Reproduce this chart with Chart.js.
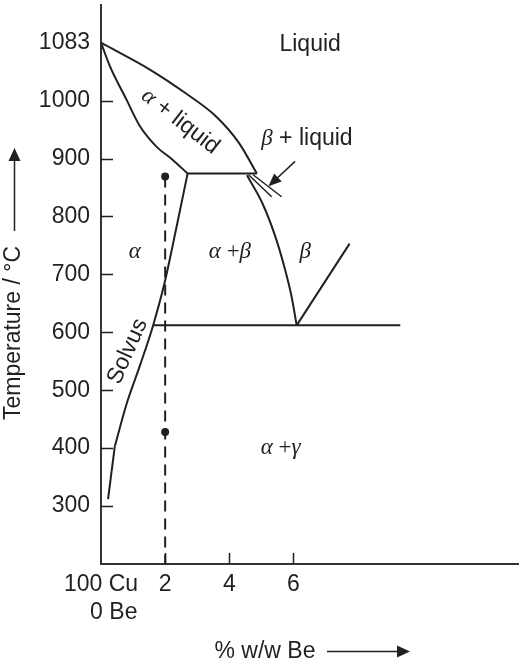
<!DOCTYPE html>
<html>
<head>
<meta charset="utf-8">
<script src="https://cdn.jsdelivr.net/npm/chart.js@4.4.1/dist/chart.umd.min.js"></script>
<style>
  html, body { margin: 0; padding: 0; background: #fff; }
  #wrap { width: 522px; height: 666px; position: relative; }
</style>
</head>
<body>
<div id="wrap"><canvas id="chart"></canvas></div>
<script>
// ===== DATA =====
// x = % w/w Be, y = temperature (°C). The melting point sits at the 1100 slot and is labelled 1083.
const X_TICKS = [0, 2, 4, 6];
const X_ZERO_LABEL = ['100 Cu', '    0 Be'];
const Y_TICKS = [300, 400, 500, 600, 700, 800, 900, 1000, 1100];
const Y_TICK_LABELS = ['300', '400', '500', '600', '700', '800', '900', '1000', '1083'];

const liquidusX = [0, 1.51, 2.63, 3.58, 4.30, 4.86];
const liquidusY = [1100, 1054, 1013, 973, 927, 874];
const solidusX = [0, 0.28, 0.79, 1.21, 1.72, 2.23, 2.70];
const solidusY = [1100, 1059, 1002, 956, 921, 898, 874];
const peritecticX = [2.70, 4.86];
const peritecticY = [874, 874];
const solvusX = [0.43, 0.79, 1.21, 1.62, 1.98, 2.34, 2.70];
const solvusY = [403, 475, 542, 611, 685, 778, 874];
const solvusTailX = [0.22, 0.43];
const solvusTailY = [312, 403];
const betaLeftX = [4.55, 5.02, 5.43, 5.74, 5.94, 6.10];
const betaLeftY = [871, 824, 766, 708, 662, 612];
const betaRightX = [6.10, 7.75];
const betaRightY = [612, 753];
const eutectoidX = [1.62, 9.33];
const eutectoidY = [612, 612];
const wedgeAX = [4.60, 5.32];
const wedgeAY = [872, 834];
const wedgeBX = [4.74, 5.63];
const wedgeBY = [872, 834];
const alloyX = [2, 2];
const alloyY = [869, 200];
const dotX = [2, 2];
const dotY = [869, 428];

// arrow pointing at the beta + liquid wedge (tail -> tip)
const pointerX = [6.05, 5.22];
const pointerY = [895, 852];

// region labels: [x, y, rotation in degrees, runs of [text, kind]]
const REGION_LABELS = [
  [6.52, 1097, 0, [['Liquid', 'sans']]],
  [2.47, 964, 38, [['α', 'greek'], [' + liquid', 'sans']]],
  [6.42, 934, 0, [['β', 'greek'], [' + liquid', 'sans']]],
  [1.05, 738, 0, [['α', 'greek']]],
  [4.02, 738, 0, [['α', 'greek'], [' +', 'greekPlus'], ['β', 'greek']]],
  [6.37, 738, 0, [['β', 'greek']]],
  [0.83, 567, -66, [['Solvus', 'sans']]],
  [5.60, 400, 0, [['α', 'greek'], [' +', 'greekPlus'], ['γ', 'greek']]],
];

// ===== STYLE =====
const INK = '#231f20';
const FONTS = {
  sans: '23px "Liberation Sans", Arial, sans-serif',
  greek: 'italic 23px "Liberation Serif", "DejaVu Serif", serif',
  greekPlus: '23px "Liberation Serif", "DejaVu Serif", serif',
};

function pts(xs, ys) {
  return xs.map((x, i) => ({ x, y: ys[i] }));
}

function lineSet(xs, ys, extra = {}) {
  return {
    data: pts(xs, ys),
    showLine: true,
    borderColor: INK,
    borderWidth: 2,
    pointRadius: 0,
    fill: false,
    ...extra,
  };
}

const SMOOTH = { cubicInterpolationMode: 'monotone' };

function drawRuns(ctx, runs) {
  let total = 0;
  const widths = runs.map(([text, kind]) => {
    ctx.font = FONTS[kind];
    const w = ctx.measureText(text).width;
    total += w;
    return w;
  });
  let x = -total / 2;
  runs.forEach(([text, kind], i) => {
    ctx.font = FONTS[kind];
    ctx.fillText(text, x, 0);
    x += widths[i];
  });
}

function arrowHead(ctx, tipX, tipY, angle, len, half) {
  ctx.save();
  ctx.translate(tipX, tipY);
  ctx.rotate(angle);
  ctx.beginPath();
  ctx.moveTo(0, 0);
  ctx.lineTo(-len, -half);
  ctx.lineTo(-len, half);
  ctx.closePath();
  ctx.fill();
  ctx.restore();
}

const decorPlugin = {
  id: 'decor',
  afterDatasetsDraw(chart) {
    const { ctx, chartArea, scales } = chart;
    const xs = scales.x;
    const ys = scales.y;
    ctx.save();
    ctx.strokeStyle = INK;
    ctx.fillStyle = INK;

    // inward tick marks
    ctx.lineWidth = 1.5;
    ctx.beginPath();
    Y_TICKS.forEach((v) => {
      if (v === 1100) return;
      const py = Math.round(ys.getPixelForValue(v)) + 0.5;
      ctx.moveTo(chartArea.left, py);
      ctx.lineTo(chartArea.left + 12, py);
    });
    X_TICKS.forEach((v) => {
      if (v === 0) return;
      const px = Math.round(xs.getPixelForValue(v)) + 0.5;
      ctx.moveTo(px, chartArea.bottom);
      ctx.lineTo(px, chartArea.bottom - 11);
    });
    ctx.stroke();

    // region labels
    ctx.textBaseline = 'middle';
    ctx.textAlign = 'left';
    REGION_LABELS.forEach(([x, y, rot, runs]) => {
      ctx.save();
      ctx.translate(xs.getPixelForValue(x), ys.getPixelForValue(y));
      ctx.rotate((rot * Math.PI) / 180);
      drawRuns(ctx, runs);
      ctx.restore();
    });

    // pointer arrow to beta + liquid
    const tx = xs.getPixelForValue(pointerX[0]);
    const ty = ys.getPixelForValue(pointerY[0]);
    const hx = xs.getPixelForValue(pointerX[1]);
    const hy = ys.getPixelForValue(pointerY[1]);
    const ang = Math.atan2(hy - ty, hx - tx);
    ctx.lineWidth = 1.5;
    ctx.beginPath();
    ctx.moveTo(tx, ty);
    ctx.lineTo(hx - Math.cos(ang) * 10, hy - Math.sin(ang) * 10);
    ctx.stroke();
    arrowHead(ctx, hx, hy, ang, 13, 5.5);

    // axis titles with arrows
    ctx.font = FONTS.sans;
    ctx.textAlign = 'center';
    ctx.save();
    ctx.translate(14, 333);
    ctx.rotate(-Math.PI / 2);
    ctx.fillText('Temperature / °C', 0, 0);
    ctx.restore();
    ctx.lineWidth = 1.5;
    ctx.beginPath();
    ctx.moveTo(14.5, 231);
    ctx.lineTo(14.5, 160);
    ctx.stroke();
    arrowHead(ctx, 14.5, 148, -Math.PI / 2, 13, 6);

    ctx.fillText('% w/w Be', 265, 652);
    ctx.beginPath();
    ctx.moveTo(327, 651.5);
    ctx.lineTo(399, 651.5);
    ctx.stroke();
    arrowHead(ctx, 410, 651.5, 0, 13, 6);

    ctx.restore();
  },
};

Chart.defaults.font.family = '"Liberation Sans", Arial, sans-serif';
Chart.defaults.font.size = 23;
Chart.defaults.color = INK;

new Chart(document.getElementById('chart'), {
  type: 'scatter',
  data: {
    datasets: [
      lineSet(liquidusX, liquidusY, SMOOTH),
      lineSet(solidusX, solidusY, SMOOTH),
      lineSet(peritecticX, peritecticY),
      lineSet(solvusX, solvusY, SMOOTH),
      lineSet(solvusTailX, solvusTailY),
      lineSet(betaLeftX, betaLeftY, SMOOTH),
      lineSet(betaRightX, betaRightY),
      lineSet(eutectoidX, eutectoidY),
      lineSet(wedgeAX, wedgeAY, { borderWidth: 1.5 }),
      lineSet(wedgeBX, wedgeBY, { borderWidth: 1.5 }),
      lineSet(alloyX, alloyY, { borderDash: [11, 7], borderWidth: 2 }),
      {
        data: pts(dotX, dotY),
        showLine: false,
        pointRadius: 4,
        pointBackgroundColor: INK,
        pointBorderColor: INK,
        pointBorderWidth: 0,
      },
    ],
  },
  options: {
    responsive: true,
    maintainAspectRatio: false,
    animation: false,
    events: [],
    layout: { padding: { top: 5, right: 2, left: 0, bottom: 0 } },
    plugins: {
      legend: { display: false },
      tooltip: { enabled: false },
    },
    scales: {
      x: {
        type: 'linear',
        min: 0,
        max: 13,
        afterBuildTicks: (s) => { s.ticks = X_TICKS.map((v) => ({ value: v })); },
        afterFit: (s) => {
          s.height = 102;
          s.paddingLeft = 0;
          s.paddingRight = 0;
        },
        grid: { display: false, drawTicks: false },
        border: { display: true, color: '#333', width: 2 },
        ticks: {
          autoSkip: false,
          maxRotation: 0,
          padding: 7,
          color: INK,
          font: { size: 23, lineHeight: 1.22 },
          callback: (v) => (v === 0 ? X_ZERO_LABEL : String(v)),
        },
      },
      y: {
        type: 'linear',
        min: 200,
        max: 1165,
        afterBuildTicks: (s) => { s.ticks = Y_TICKS.map((v) => ({ value: v })); },
        afterFit: (s) => {
          s.width = 101;
          s.paddingTop = 0;
          s.paddingBottom = 0;
        },
        grid: { display: false, drawTicks: false },
        border: { display: true, color: '#333', width: 2 },
        ticks: {
          autoSkip: false,
          padding: 11,
          color: INK,
          font: { size: 23 },
          callback: (v) => Y_TICK_LABELS[Y_TICKS.indexOf(v)],
        },
      },
    },
  },
  plugins: [decorPlugin],
});
</script>
</body>
</html>
